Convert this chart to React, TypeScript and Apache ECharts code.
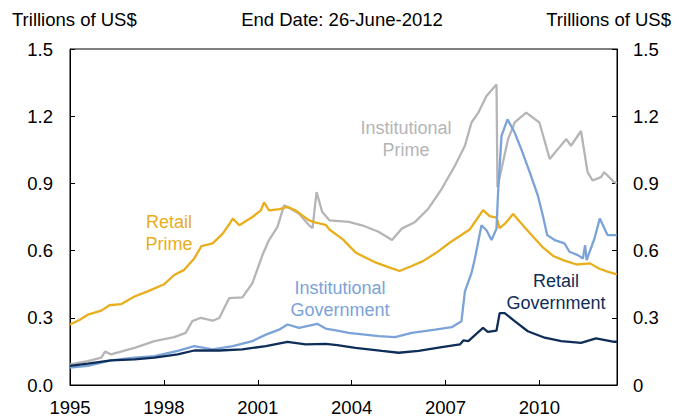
import React, { useEffect, useRef } from "react";
import * as echarts from "echarts";

const xTickYears = [1995, 1998, 2001, 2004, 2007, 2010];
const yTicks = [0, 0.3, 0.6, 0.9, 1.2, 1.5];

const retailPrime: [number, number][] = [
  [1995.0, 0.27], [1995.3, 0.29], [1995.57, 0.314], [1996.0, 0.332], [1996.26, 0.356], [1996.63, 0.361],
  [1997.06, 0.395], [1997.48, 0.418], [1998.01, 0.45], [1998.33, 0.491], [1998.65, 0.514], [1998.97, 0.565],
  [1999.2, 0.62], [1999.56, 0.632], [1999.88, 0.676], [2000.1, 0.72], [2000.2, 0.743], [2000.41, 0.713],
  [2000.83, 0.75], [2001.1, 0.78], [2001.2, 0.815], [2001.36, 0.78], [2001.7, 0.785], [2001.95, 0.795],
  [2002.2, 0.78], [2002.64, 0.735], [2002.86, 0.725], [2003.17, 0.715], [2003.29, 0.694], [2003.72, 0.65],
  [2004.14, 0.59], [2004.78, 0.546], [2005.2, 0.525], [2005.53, 0.509], [2005.9, 0.53], [2006.28, 0.553],
  [2006.7, 0.59], [2007.13, 0.635], [2007.77, 0.694], [2008.0, 0.74], [2008.2, 0.781], [2008.41, 0.754],
  [2008.63, 0.747], [2008.73, 0.7], [2008.9, 0.72], [2009.16, 0.763], [2009.59, 0.694], [2010.12, 0.613],
  [2010.44, 0.576], [2010.8, 0.555], [2011.19, 0.538], [2011.62, 0.543], [2011.9, 0.52], [2012.2, 0.505],
  [2012.48, 0.494],
];

const institutionalPrime: [number, number][] = [
  [1995.0, 0.092], [1995.57, 0.107], [1996.0, 0.122], [1996.12, 0.149], [1996.31, 0.137], [1997.06, 0.166],
  [1997.7, 0.196], [1998.33, 0.214], [1998.7, 0.233], [1998.91, 0.285], [1999.18, 0.3], [1999.56, 0.287],
  [1999.77, 0.299], [2000.09, 0.388], [2000.51, 0.391], [2000.83, 0.455], [2001.15, 0.58], [2001.36, 0.647],
  [2001.63, 0.706], [2001.84, 0.802], [2002.05, 0.787], [2002.32, 0.765], [2002.64, 0.713], [2002.75, 0.7],
  [2002.88, 0.861], [2003.06, 0.772], [2003.29, 0.735], [2003.91, 0.728], [2004.33, 0.713], [2004.86, 0.684],
  [2005.29, 0.647], [2005.6, 0.698], [2006.03, 0.728], [2006.45, 0.787], [2006.88, 0.876], [2007.3, 0.979],
  [2007.62, 1.068], [2007.83, 1.172], [2008.05, 1.216], [2008.31, 1.29], [2008.63, 1.341], [2008.66, 0.883],
  [2008.79, 0.965], [2009.0, 1.098], [2009.21, 1.172], [2009.58, 1.216], [2010.0, 1.172], [2010.33, 1.009],
  [2010.59, 1.053], [2010.86, 1.098], [2011.01, 1.068], [2011.33, 1.134], [2011.54, 0.95], [2011.7, 0.913],
  [2011.97, 0.928], [2012.07, 0.95], [2012.39, 0.906], [2012.48, 0.9],
];

const institutionalGovernment: [number, number][] = [
  [1995.0, 0.078], [1995.57, 0.085], [1996.31, 0.11], [1997.06, 0.122], [1997.7, 0.129], [1998.44, 0.152],
  [1998.97, 0.174], [1999.29, 0.166], [1999.56, 0.159], [2000.2, 0.174], [2000.83, 0.196], [2001.26, 0.225],
  [2001.68, 0.247], [2001.95, 0.27], [2002.32, 0.255], [2002.9, 0.273], [2003.17, 0.252], [2003.54, 0.243],
  [2003.91, 0.233], [2004.86, 0.218], [2005.39, 0.214], [2005.92, 0.233], [2006.67, 0.247], [2007.2, 0.258],
  [2007.51, 0.285], [2007.62, 0.418], [2007.83, 0.5], [2007.94, 0.565], [2008.15, 0.713], [2008.31, 0.691],
  [2008.47, 0.647], [2008.63, 0.698], [2008.68, 0.861], [2008.79, 1.112], [2008.98, 1.186], [2009.21, 1.127],
  [2009.42, 1.053], [2009.69, 0.95], [2009.95, 0.846], [2010.11, 0.757], [2010.25, 0.669], [2010.49, 0.647],
  [2010.8, 0.632], [2010.96, 0.595], [2011.23, 0.58], [2011.39, 0.565], [2011.46, 0.624], [2011.51, 0.558],
  [2011.76, 0.654], [2011.93, 0.743], [2012.18, 0.669], [2012.48, 0.669],
];

const retailGovernment: [number, number][] = [
  [1995.0, 0.085], [1995.57, 0.095], [1996.31, 0.11], [1997.06, 0.114], [1997.7, 0.122], [1998.44, 0.137],
  [1998.97, 0.154], [1999.77, 0.154], [2000.51, 0.159], [2001.26, 0.174], [2001.95, 0.193], [2002.53, 0.181],
  [2003.17, 0.184], [2003.54, 0.178], [2004.12, 0.166], [2004.97, 0.152], [2005.5, 0.144], [2006.14, 0.152],
  [2006.88, 0.169], [2007.46, 0.181], [2007.57, 0.199], [2007.73, 0.196], [2008.02, 0.233], [2008.2, 0.255],
  [2008.35, 0.237], [2008.63, 0.243], [2008.73, 0.321], [2008.89, 0.321], [2009.21, 0.285], [2009.63, 0.24],
  [2010.17, 0.211], [2010.7, 0.196], [2011.33, 0.188], [2011.81, 0.208], [2012.39, 0.193], [2012.48, 0.193],
];

const COLORS = {
  gold: "#E8AE1C",
  gray: "#B5B5B7",
  lightBlue: "#7BA3D8",
  navy: "#0E2D58",
};

const FONT = "'Liberation Sans', Arial, sans-serif";
const AXIS_FS = 18.5;

export default function App() {
  const ref = useRef<HTMLDivElement>(null);
  useEffect(() => {
    if (!ref.current) return;
    const chart = echarts.init(ref.current, null, { renderer: "svg" });
    const mkLine = (name: string, data: [number, number][], color: string) => ({
      name,
      type: "line",
      data,
      showSymbol: false,
      symbol: "none",
      lineStyle: { color, width: 2.3 },
      itemStyle: { color },
      z: 3,
    });
    const yAxisBase = {
      type: "value",
      min: 0,
      max: 1.5,
      interval: 0.3,
      splitLine: { show: false },
      axisLine: { show: true, lineStyle: { color: "#000", width: 1 } },
      axisTick: { show: true, inside: true, length: 5, lineStyle: { color: "#000" } },
    };
    const txt = (text: string, x: number, y: number, color: string, align = "center", fs = 18) => ({
      type: "text",
      x,
      y,
      style: {
        text,
        fill: color,
        font: `${fs}px ${FONT}`,
        textAlign: align,
        textVerticalAlign: "middle",
        lineHeight: 22,
      },
      z: 10,
    });
    chart.setOption({
      animation: false,
      backgroundColor: "#fff",
      textStyle: { fontFamily: FONT },
      grid: {
        left: 70,
        right: 62,
        top: 49,
        bottom: 30,
        show: true,
        borderColor: "#000",
        borderWidth: 1,
        backgroundColor: "transparent",
      },
      xAxis: {
        type: "value",
        min: 1995,
        max: 2012.48,
        interval: 3,
        splitLine: { show: false },
        axisLine: { show: true, lineStyle: { color: "#000" } },
        axisTick: { show: true, inside: true, length: 5, lineStyle: { color: "#000" } },
        axisLabel: {
          color: "#000",
          fontSize: AXIS_FS,
          fontFamily: FONT,
          margin: 13,
          showMaxLabel: false,
          formatter: (v: number) => (xTickYears.includes(Math.round(v)) && Math.abs(v - Math.round(v)) < 1e-6 ? String(Math.round(v)) : ""),
        },
      },
      yAxis: [
        {
          ...yAxisBase,
          position: "left",
          axisLabel: {
            color: "#000",
            fontSize: AXIS_FS,
            fontFamily: FONT,
            margin: 17,
            formatter: (v: number) => (yTicks.some((t) => Math.abs(t - v) < 1e-6) ? v.toFixed(1) : ""),
          },
        },
        {
          ...yAxisBase,
          position: "right",
          axisLabel: {
            color: "#000",
            fontSize: AXIS_FS,
            fontFamily: FONT,
            margin: 16,
            formatter: (v: number) => (Math.abs(v) < 1e-6 ? "0" : v.toFixed(1)),
          },
        },
      ],
      series: [
        mkLine("Institutional Prime", institutionalPrime, COLORS.gray),
        mkLine("Retail Prime", retailPrime, COLORS.gold),
        mkLine("Institutional Government", institutionalGovernment, COLORS.lightBlue),
        mkLine("Retail Government", retailGovernment, COLORS.navy),
      ],
      graphic: [
        txt("Trillions of US$", 12, 19, "#000", "left", AXIS_FS),
        txt("End Date: 26-June-2012", 342, 19, "#000", "center", AXIS_FS),
        txt("Trillions of US$", 671, 19, "#000", "right", AXIS_FS),
        txt("Retail\nPrime", 169, 233, COLORS.gold),
        txt("Institutional\nPrime", 406, 139, COLORS.gray),
        txt("Institutional\nGovernment", 340, 299, COLORS.lightBlue),
        txt("Retail\nGovernment", 556, 292, COLORS.navy),
      ],
    });
    return () => chart.dispose();
  }, []);
  return (
    <div
      ref={ref}
      style={{ position: "absolute", left: 0, top: 0, width: 679, height: 417, background: "#fff" }}
    />
  );
}
